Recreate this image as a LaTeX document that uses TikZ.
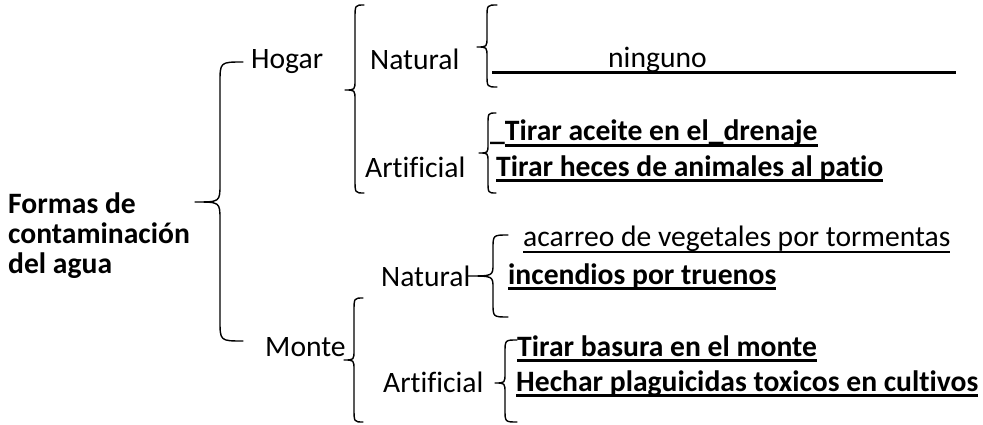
\documentclass[tikz,border=0pt]{standalone}
\usepackage{fontspec}
\setmainfont{Carlito}[Ligatures=NoCommon]
\newcommand\ulbold[1]{\setbox0\hbox{#1}\rlap{\rule[-6pt]{\wd0}{2.6pt}}\box0}
\newcommand\ulreg[1]{\setbox0\hbox{#1}\rlap{\rule[-7pt]{\wd0}{1.8pt}}\box0}
% xe, xv, xt, ytop, ytip, ybot, rend, rtip
\newcommand\mybrace[8]{\draw[bracestyle] (#1,#4) .. controls (#2,#4) .. (#2,{#4+#7}) -- (#2,{#5-#8}) .. controls (#2,#5) .. (#3,#5) .. controls (#2,#5) .. (#2,{#5+#8}) -- (#2,{#6-#7}) .. controls (#2,#6) .. (#1,#6);}
\begin{document}
\begin{tikzpicture}[x=1pt,y=-1pt,
  bracestyle/.style={line width=1.4pt,line cap=round,line join=round},
  txt/.style={inner sep=0pt,anchor=base west,font=\fontsize{29.6}{35}\selectfont},
  txtb/.style={txt,font=\fontsize{29.6}{35}\selectfont\bfseries}]
\useasboundingbox (0,0) rectangle (983,425);
% root
\node[txtb,anchor=west,align=left,font=\fontsize{29.6}{30}\selectfont\bfseries] (root) at (8,236) {Formas de\\contaminación\\del agua};
% level 1
\node[txt] (hogar) at (251,69) {Hogar};
\node[txt] (monte) at (265,356) {Monte};
% level 2
\node[txt] (hnat) at (370,70) {Natural};
\node[txt] (hart) at (365,178) {Artificial};
\node[txt] (mnat) at (381,286) {Natural};
\node[txt] (mart) at (383,392) {Artificial};
% leaves
\node[txt] (ning) at (492,68) {\ulbold{\makebox[464pt][l]{\hspace{116pt}ninguno}}};
\node[txtb] (ha1) at (490,141) {\_\ulbold{Tirar aceite en el\_drenaje}};
\node[txtb] (ha2) at (496,176) {\ulbold{Tirar heces de animales al patio}};
\node[txt] (mn1) at (523,246) {\ulreg{acarreo de vegetales por tormentas}};
\node[txtb] (mn2) at (508,284) {\ulbold{incendios por truenos}};
\node[txtb] (ma1) at (517,356) {\ulbold{Tirar basura en el monte}};
\node[txtb] (ma2) at (516,391) {\ulbold{Hechar plaguicidas toxicos en cultivos}};
% braces
\mybrace{243}{220}{195}{62}{202}{341}{21}{18}
\mybrace{364}{355}{345}{5}{90}{193}{14}{10}
\mybrace{497}{487}{477}{5}{47}{87}{13}{10}
\mybrace{496}{488}{479}{113}{153}{193}{12}{9}
\mybrace{363}{354}{344}{298}{360}{422}{14}{10}
\mybrace{508}{493}{468}{235}{276}{317}{14}{12}
\mybrace{517}{505}{495}{340}{383}{422}{13}{10}
\end{tikzpicture}
\end{document}
